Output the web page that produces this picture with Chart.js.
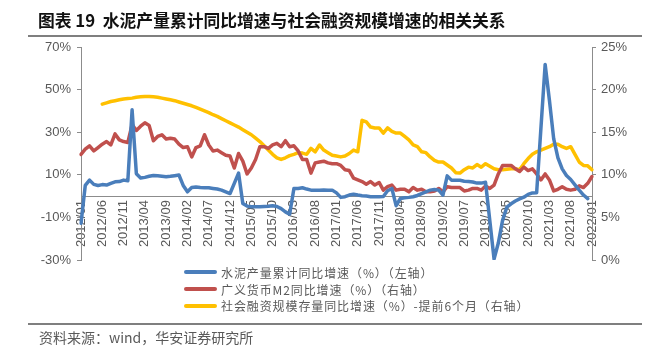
<!DOCTYPE html>
<html>
<head>
<meta charset="utf-8">
<script src="https://cdn.jsdelivr.net/npm/chart.js@4.4.0/dist/chart.umd.min.js"></script>
<style>
  body { margin: 0; background: #fff; }
  #page { position: relative; width: 655px; height: 357px; overflow: hidden;
          font-family: "Noto Sans CJK SC", "Liberation Sans", sans-serif; }
  #box { position: absolute; left: 0; top: 0; width: 655px; height: 357px; }
  #title { position: absolute; left: 38px; top: 8px; font-size: 16.8px; font-weight: bold;
           color: #111; white-space: pre; line-height: 24px; }
  .rule { position: absolute; left: 28px; width: 614px; height: 2px; background: #7f7f7f; }
  #legend { position: absolute; left: 184px; top: 264px; }
  .item { height: 16.7px; display: flex; align-items: center; font-size: 12px; letter-spacing: 0.9px;
          color: #595959; white-space: pre; }
  .swatch { width: 33px; height: 4px; border-radius: 2px; margin-right: 4px; }
  #source { position: absolute; left: 39px; top: 327px; font-size: 14px; color: #595959; line-height: 20px; }
</style>
</head>
<body>
<div id="page">
  <div id="box"><canvas id="chart"></canvas></div>
  <div id="title">图表 19  水泥产量累计同比增速与社会融资规模增速的相关关系</div>
  <div class="rule" style="top:35px"></div>
  <div id="legend"></div>
  <div class="rule" style="top:323px"></div>
  <div id="source">资料来源：wind，华安证券研究所</div>
</div>
<script>
'use strict';

// months 2012/01 .. 2022/01
var months = [];
for (var yr = 2012; yr <= 2022; yr++) {
  for (var m = 1; m <= 12; m++) {
    if (yr === 2022 && m > 1) break;
    months.push(yr + '/' + (m < 10 ? '0' + m : m));
  }
}

// 水泥产量累计同比增速 (%), left axis
var cement = [
  -12.8, 5.0, 7.5, 5.5, 5.0, 5.4, 5.2, 6.0, 6.7, 6.8, 7.5, 7.2,
  40.5, 10.5, 8.5, 8.8, 9.3, 9.7, 9.5, 9.3, 9.1, 9.3, 9.6, 9.9,
  5.0, 2.0, 4.0, 4.3, 4.0, 3.9, 3.9, 3.6, 3.3, 2.8, 2.0, 1.2,
  6.0, 10.8, -3.5, -4.7, -5.0, -5.0, -5.0, -4.9, -4.8, -4.5, -4.9, -5.9,
  -7.4, -8.5, 3.6, 3.6, 3.9, 3.3, 2.8, 2.8, 2.8, 2.9, 2.8, 2.8,
  1.5, -0.6, -0.3, 0.5, 0.9, 0.5, 0.2, 0.0, -0.3, -0.3, -0.3, -0.2,
  2.5, 3.6, -4.5, -1.1, -0.8, -0.6, -0.3, 0.3, 1.2, 2.0, 2.8, 3.1,
  2.8, 0.5, 9.5, 7.5, 7.5, 7.4, 7.0, 6.9, 6.6, 6.1, 6.1, 6.5,
  null, -29.5, -22.0, -11.4, -5.2, -3.6, -2.3, -1.3, -0.5, 0.8, 1.5, 1.6,
  null, 61.8, 45.0, 27.0, 18.0, 12.8, 9.7, 7.8, 5.3, 2.8, 0.5, -1.2,
  null
];

// 广义货币M2同比增速 (%), right axis
var m2 = [
  12.4, 13.0, 13.4, 12.8, 13.2, 13.6, 13.9, 13.5, 14.8, 14.1, 13.9, 13.8,
  15.9, 15.2, 15.7, 16.1, 15.8, 14.0, 14.5, 14.7, 14.2, 14.3, 14.2, 13.6,
  13.2, 13.3, 12.1, 13.2, 13.4, 14.7, 13.5, 12.8, 12.9, 12.6, 12.3, 12.2,
  10.8, 12.5, 11.6, 10.1, 10.8, 11.8, 13.3, 13.3, 13.1, 13.5, 13.7, 13.3,
  14.0, 13.3, 13.4, 12.8, 11.8, 11.8, 10.2, 11.4, 11.5, 11.6, 11.4, 11.3,
  11.3, 11.1, 10.6, 10.5, 9.6, 9.4, 9.2, 8.9, 9.2, 8.8, 9.1, 8.2,
  8.6, 8.8, 8.2, 8.3, 8.3, 8.0, 8.5, 8.2, 8.3, 8.0, 8.0, 8.1,
  8.4, 8.0, 8.6, 8.5, 8.5, 8.5, 8.1, 8.2, 8.4, 8.4, 8.2, 8.7,
  8.4, 8.8, 10.1, 11.1, 11.1, 11.1, 10.7, 10.4, 10.9, 10.5, 10.7, 10.1,
  9.4, 10.1, 9.4, 8.1, 8.3, 8.6, 8.3, 8.2, 8.3, 8.7, 8.5, 9.0,
  9.8
];

// 社会融资规模存量同比增速 (%)-提前6个月, right axis
var tsf = [
  null, null, null, null, null, 18.3, 18.45, 18.6, 18.7, 18.8, 18.9, 18.95,
  19.0, 19.1, 19.15, 19.2, 19.2, 19.15, 19.1, 19.0, 18.9, 18.8, 18.7, 18.55,
  18.4, 18.25, 18.1, 17.9, 17.7, 17.5, 17.3, 17.05, 16.85, 16.6, 16.35, 16.1,
  15.85, 15.6, 15.3, 15.0, 14.7, 14.3, 13.9, 13.4, 12.9, 12.4, 12.0, 11.8,
  12.0, 12.25, 12.4, 12.6, 12.55, 12.4, 13.1, 12.7, 13.5, 12.9, 12.6, 12.3,
  12.2, 12.1, 12.2, 12.5, 12.9, 12.7, 16.4, 16.2, 15.6, 15.5, 15.5, 14.9,
  15.5, 15.1, 14.9, 14.9, 14.5, 14.1, 13.5, 13.3, 12.7, 12.6, 12.1, 11.7,
  11.5, 11.5, 11.15, 10.8, 10.25, 10.2, 10.6, 10.9, 10.8, 11.2, 10.9, 11.3,
  11.0, 10.7, 10.6, 10.6, 10.65, 10.7, 10.7, 10.6, 11.3, 11.9, 12.4, 12.7,
  12.9, 13.1, 13.3, 13.6, 13.6, 13.3, 13.1, 13.3, 12.4, 11.5, 11.1, 11.05,
  10.6
];

var leftTicks = [-30, -10, 10, 30, 50, 70];
var rightTicks = [0, 5, 10, 15, 20, 25];

var axisColor = '#8c8c8c';
var textColor = '#595959';
var tickFont = { family: 'Liberation Sans', size: 13 };

var ctx = document.getElementById('chart').getContext('2d');
var chart = new Chart(ctx, {
  type: 'line',
  data: {
    labels: months,
    datasets: [{
      label: '水泥产量累计同比增速（%）（左轴）',
      data: cement,
      yAxisID: 'y',
      borderColor: '#4A7EBB',
      backgroundColor: '#4A7EBB'
    }, {
      label: '广义货币M2同比增速（%）（右轴）',
      data: m2,
      yAxisID: 'y1',
      borderColor: '#C0504D',
      backgroundColor: '#C0504D'
    }, {
      label: '社会融资规模存量同比增速（%）-提前6个月（右轴）',
      data: tsf,
      yAxisID: 'y1',
      borderColor: '#FFC000',
      backgroundColor: '#FFC000'
    }]
  },
  options: {
    responsive: true,
    maintainAspectRatio: false,
    animation: false,
    spanGaps: true,
    layout: { padding: { top: 47, bottom: 97, left: 0, right: 0 } },
    elements: {
      point: { radius: 0 },
      line: { borderWidth: 3.5, tension: 0, borderCapStyle: 'round', borderJoinStyle: 'round' }
    },
    plugins: {
      legend: { display: false },
      tooltip: { enabled: false }
    },
    scales: {
      x: {
        position: { y: 0 },
        offset: false,
        grid: { display: false, drawTicks: false },
        border: { display: true, color: axisColor, width: 1 },
        ticks: {
          autoSkip: false,
          maxRotation: 90,
          minRotation: 90,
          padding: 4,
          color: textColor,
          font: tickFont,
          callback: function (val, i) { return i % 5 === 0 ? months[i] : null; }
        },
        afterFit: function (s) { s.height = 0; }
      },
      y: {
        position: 'left',
        min: -30, max: 70,
        afterBuildTicks: function (s) { s.ticks = leftTicks.map(function (v) { return { value: v }; }); },
        grid: { drawOnChartArea: false, drawTicks: true, tickLength: 4, color: axisColor },
        border: { display: true, color: axisColor },
        ticks: { padding: 6, color: textColor, font: tickFont,
                 callback: function (v) { return v + '%'; } },
        afterFit: function (s) { s.width = 81; }
      },
      y1: {
        position: 'right',
        min: 0, max: 25,
        afterBuildTicks: function (s) { s.ticks = rightTicks.map(function (v) { return { value: v }; }); },
        grid: { drawOnChartArea: false, drawTicks: true, tickLength: 4, color: axisColor },
        border: { display: true, color: axisColor },
        ticks: { padding: 5, color: textColor, font: tickFont,
                 callback: function (v) { return v + '%'; } },
        afterFit: function (s) { s.width = 63; }
      }
    }
  }
});

// legend stacked like the source, built from the chart's datasets
var legend = document.getElementById('legend');
chart.data.datasets.forEach(function (ds) {
  var row = document.createElement('div');
  row.className = 'item';
  var sw = document.createElement('span');
  sw.className = 'swatch';
  sw.style.background = ds.borderColor;
  var txt = document.createElement('span');
  txt.textContent = ds.label;
  row.appendChild(sw);
  row.appendChild(txt);
  legend.appendChild(row);
});
</script>
</body>
</html>
